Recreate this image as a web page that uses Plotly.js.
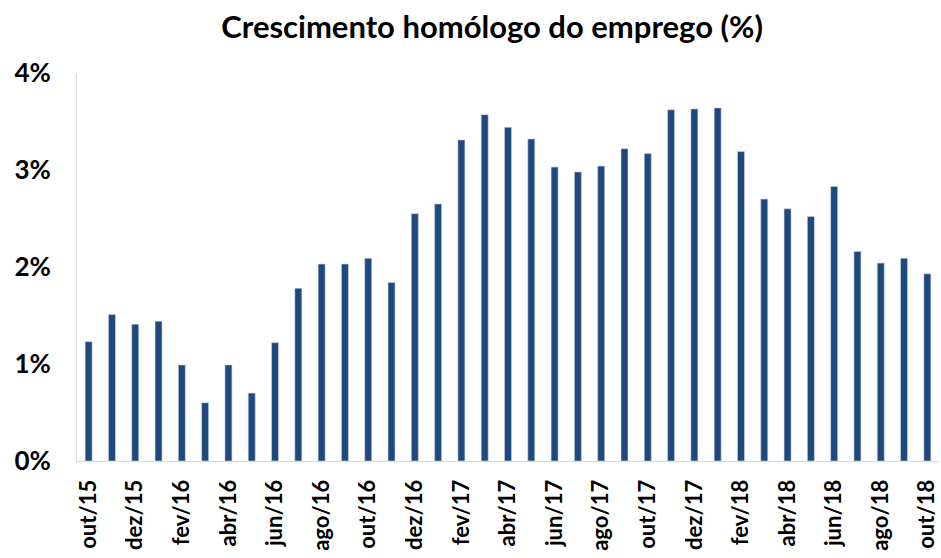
<!DOCTYPE html>
<html>
<head>
<meta charset="utf-8">
<script src="https://cdn.plot.ly/plotly-3.0.1.min.js"></script>
<style>html,body{margin:0;padding:0;background:#fff;}#chart{width:941px;height:558px;}</style>
</head>
<body>
<div id="chart"></div>
<script>
const months = ["out/15","nov/15","dez/15","jan/16","fev/16","mar/16","abr/16","mai/16","jun/16","jul/16","ago/16","set/16","out/16","nov/16","dez/16","jan/17","fev/17","mar/17","abr/17","mai/17","jun/17","jul/17","ago/17","set/17","out/17","nov/17","dez/17","jan/18","fev/18","mar/18","abr/18","mai/18","jun/18","jul/18","ago/18","set/18","out/18"];
const growth = [1.23,1.51,1.41,1.44,0.99,0.60,0.99,0.70,1.22,1.78,2.03,2.03,2.09,1.84,2.55,2.65,3.31,3.57,3.44,3.32,3.03,2.98,3.04,3.22,3.17,3.62,3.63,3.64,3.19,2.70,2.60,2.52,2.83,2.16,2.04,2.09,1.93];
const yTicks = [0,1,2,3,4];
const yTickText = ["0%","1%","2%","3%","4%"];
const shownMonths = months.filter((m,i)=>i%2===0);

const trace = {
  type: "bar",
  x: months,
  y: growth,
  marker: {color: "#1f497d", line: {color: "#c9d3e2", width: 0.6}},
  hoverinfo: "x+y"
};

const layout = {
  width: 941, height: 558,
  margin: {l: 77, r: 2, t: 73, b: 97},
  paper_bgcolor: "#fff", plot_bgcolor: "#fff",
  bargap: 0.70,
  showlegend: false,
  title: {
    text: "Crescimento homólogo do emprego (%)",
    font: {family: "Lato", size: 31, weight: 700, color: "#000"},
    x: 0.523, xanchor: "center", xref: "container",
    y: 0.951, yanchor: "middle", yref: "container"
  },
  xaxis: {
    type: "category",
    tickmode: "array",
    tickvals: shownMonths,
    ticktext: shownMonths,
    tickangle: -90,
    ticks: "",
    ticklabelstandoff: 9,
    tickfont: {family: "Lato", size: 22, weight: 700, color: "#000"},
    showline: true, linecolor: "#d9d9d9", linewidth: 1,
    showgrid: false, zeroline: false
  },
  yaxis: {
    range: [0, 4],
    tickmode: "array",
    tickvals: yTicks,
    ticktext: yTickText,
    ticks: "",
    ticklabelstandoff: 20,
    tickfont: {family: "Lato", size: 26, weight: 700, color: "#000"},
    showline: true, linecolor: "#d9d9d9", linewidth: 1,
    showgrid: false, zeroline: false
  }
};

Plotly.newPlot("chart", [trace], layout, {displayModeBar: false, staticPlot: true});
</script>
</body>
</html>
